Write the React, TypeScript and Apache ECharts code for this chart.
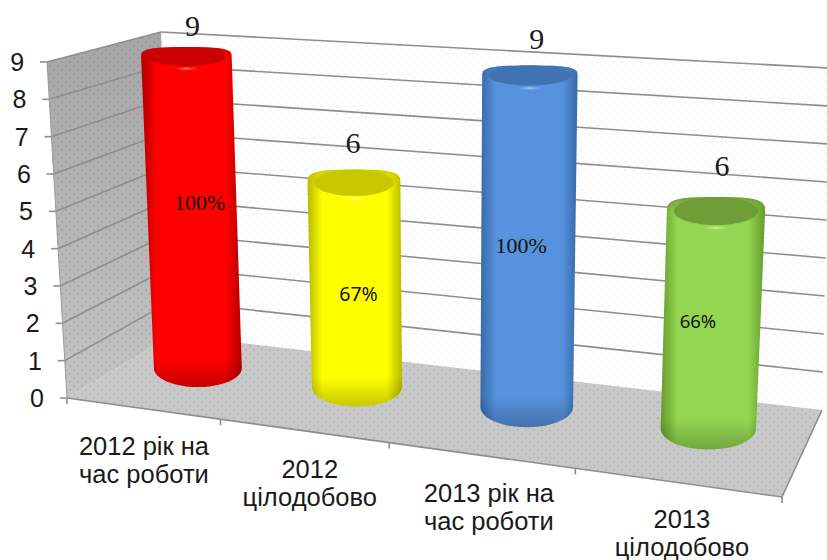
import React, { useEffect, useRef } from "react";
import * as echarts from "echarts";

const categories = ["2012 рік на\nчас роботи", "2012\nцілодобово", "2013 рік на\nчас роботи", "2013\nцілодобово"];
const values = [9, 6, 9, 6];
const percents = ["100%", "67%", "100%", "66%"];
const yTicks = [0, 1, 2, 3, 4, 5, 6, 7, 8, 9];
const edgeColors = ["#b00000", "#b8b800", "#376aa8", "#659a2c"];
const midColors = ["#ff0000", "#ffff00", "#5692dd", "#93d652"];
const capColors = ["#c80000", "#c8c800", "#3f73b3", "#6f9e36"];
const hiColors = ["#ff9a80", "#ffffb0", "#a8d0f5", "#e4f0a0"];
const percentOffsets = [[7, -22], [3, 2], [-7, -9], [-14, -7]];
const valueOffsets = [[6, -22], [-1, -27], [7, -27], [6, -32]];
const categoryOffsets = [[2, 24], [7, 24], [9, 24], [6, 23]];
const percentFonts = ["Liberation Serif", "Noto Sans", "Liberation Serif", "Noto Sans"];
const percentSizes = [22, 19.5, 22, 18.5];

type P = [number, number];
const F: P[] = [[67, 398], [782, 497], [822, 410], [172, 335]];
const T: P[] = [[47, 62], [798, 118], [830, 68], [161, 32]];
const COLUMN_PLANE: P[] = [[122, 359], [804, 440], [821, 92], [107.5, 52.6]];
const FORESHORTEN = 1.08;
const GRID = { left: 47, right: 45, top: 62, bottom: 162 };
const W = 827, H = 560;

function homography(q: P[]) {
  const [[x0, y0], [x1, y1], [x2, y2], [x3, y3]] = q;
  const dx1 = x1 - x2, dx2 = x3 - x2, sx = x0 - x1 + x2 - x3;
  const dy1 = y1 - y2, dy2 = y3 - y2, sy = y0 - y1 + y2 - y3;
  const det = dx1 * dy2 - dx2 * dy1;
  const g = (sx * dy2 - dx2 * sy) / det, h = (dx1 * sy - sx * dy1) / det;
  const a = x1 - x0 + g * x1, b = x3 - x0 + h * x3, d = y1 - y0 + g * y1, e = y3 - y0 + h * y3;
  return (u: number, w: number): P => {
    const k = g * u + h * w + 1;
    return [(a * u + b * w + x0) / k, (d * u + e * w + y0) / k];
  };
}
const floorH = homography(F);
const topH = homography(T);
const columnH = homography(COLUMN_PLANE);
function P3(u: number, t: number, w: number): P {
  const f = floorH(u, w), p = topH(u, w);
  return [f[0] + (p[0] - f[0]) * t, f[1] + (p[1] - f[1]) * t];
}
const column = (u: number, t: number): P => columnH(u, Math.pow(t, FORESHORTEN));
function scales(api: any) {
  const gx = GRID.left, gw = W - GRID.left - GRID.right;
  const y0 = api.coord([0, 0])[1], y9 = api.coord([0, 9])[1];
  return {
    u: (i: number) => (api.coord([i, 0])[0] - gx) / gw,
    t: (v: number) => (y0 - api.coord([0, v])[1]) / (y0 - y9),
  };
}
function dotPattern(alpha: number) {
  const c = document.createElement("canvas");
  c.width = 8; c.height = 8;
  const x = c.getContext("2d")!;
  x.fillStyle = `rgba(70,70,70,${alpha})`;
  x.fillRect(1, 1, 2, 2);
  x.fillRect(5, 5, 2, 2);
  return { image: c, repeat: "repeat" };
}
const hGrad = (edge: string, mid: string) => ({
  type: "linear", x: 0, y: 0, x2: 1, y2: 0,
  colorStops: [
    { offset: 0, color: edge }, { offset: 0.16, color: mid }, { offset: 0.5, color: mid },
    { offset: 0.84, color: mid }, { offset: 1, color: edge },
  ],
});
const ryAt = (y: number) => 8 + 0.03 * y;

function renderBox(params: any, api: any) {
  const s = scales(api);
  const line = (a: P, b: P, stroke = "#8e8e8e", lineWidth = 1.6) => ({
    type: "line", shape: { x1: a[0], y1: a[1], x2: b[0], y2: b[1] }, style: { stroke, lineWidth },
  });
  const poly = (pts: P[], fill: any) => ({ type: "polygon", shape: { points: pts }, style: { fill } });
  const vert = (a: string, b: string) => ({
    type: "linear", x: 0, y: 0, x2: 0, y2: 1,
    colorStops: [{ offset: 0, color: a }, { offset: 1, color: b }],
  });
  const back: P[] = [P3(0, 1, 1), P3(1, 1, 1), P3(1, 0, 1), P3(0, 0, 1)];
  const left: P[] = [P3(0, 1, 0), P3(0, 1, 1), P3(0, 0, 1), P3(0, 0, 0)];
  const floor: P[] = [P3(0, 0, 0), P3(1, 0, 0), P3(1, 0, 1), P3(0, 0, 1)];
  const children: any[] = [
    poly(back, "#ffffff"), poly(back, dotPattern(0.07)),
    poly(left, vert("#a6a6a6", "#c4c4c4")), poly(left, dotPattern(0.14)),
    poly(floor, "#c8c8c8"), poly(floor, dotPattern(0.12)),
  ];
  yTicks.forEach((v) => {
    const t = s.t(v);
    const a = P3(0, t, 0), b = P3(0, t, 1), c = P3(1, t, 1);
    if (v > 0) children.push(line(a, b), line(b, c));
    children.push(line([a[0] - 7, a[1]], a));
  });
  children.push(line(P3(0, 1, 0), P3(0, 0, 0), "#9a9a9a", 1));
  children.push(line(P3(0, 0, 0), P3(1, 0, 0)), line(P3(1, 0, 0), P3(1, 0, 1)));
  for (let c = 0; c <= 4; c++) {
    const p = P3(c / 4, 0, 0);
    children.push(line(p, [p[0], p[1] + 6]));
  }
  categories.forEach((name, i) => {
    const mid = P3(s.u(i), 0, 0);
    children.push({
      type: "text",
      style: {
        x: mid[0] + categoryOffsets[i][0], y: mid[1] + categoryOffsets[i][1], text: name,
        align: "center", verticalAlign: "top",
        font: '25.5px "Liberation Sans"', lineHeight: 28, fill: "#1a1a1a",
      },
    });
  });
  return { type: "group", children };
}

function renderCylinder(params: any, api: any) {
  const i = api.value(0), v = api.value(1);
  const s = scales(api);
  const u = s.u(i), tv = s.t(v);
  const b = column(u, 0), t = column(u, tv);
  const band = column(u + 0.125, 0)[0] - column(u - 0.125, 0)[0];
  const rx = 27 + 0.11 * band;
  const rxT = rx * 1.03;
  const ryB = ryAt(b[1]), ryT = ryAt(t[1]);
  const pts: P[] = [];
  for (let a = 0; a <= 24; a++) {
    const th = Math.PI + (a / 24) * Math.PI;
    const c = Math.cos(th), sn = Math.sin(th);
    pts.push([t[0] + rxT * Math.sign(c) * Math.pow(Math.abs(c), 0.6), t[1] + ryT * Math.sign(sn) * Math.pow(Math.abs(sn), 0.6)]);
  }
  const low: P[] = [];
  for (let a = 0; a <= 24; a++) {
    const th = (a / 24) * Math.PI;
    low.push([b[0] + rx * Math.cos(th), b[1] + ryB * Math.sin(th)]);
  }
  const label = column(u, tv / 2);
  const top = t[1] - ryT;
  return {
    type: "group",
    children: [
      { type: "polygon", shape: { points: [...pts, ...low] }, style: { fill: hGrad(edgeColors[i], midColors[i]) } },
      {
        type: "polygon", shape: { points: [[b[0] - rx, b[1] - 10] as P, [b[0] + rx, b[1] - 10] as P, ...low] },
        style: {
          fill: {
            type: "linear", x: 0, y: 0, x2: 0, y2: 1,
            colorStops: [{ offset: 0, color: "rgba(0,0,0,0)" }, { offset: 1, color: "rgba(0,0,0,0.22)" }],
          },
        },
      },
      {
        type: "polygon", shape: { points: pts },
        style: {
          fill: {
            type: "linear", x: 0, y: 0, x2: 0, y2: 1,
            colorStops: [{ offset: 0, color: capColors[i] }, { offset: 1, color: capColors[i] + "00" }],
          },
        },
      },
      {
        type: "ellipse", shape: { cx: t[0], cy: t[1] - 0.5, rx: rxT * 0.86, ry: ryT * 0.98 },
        style: { fill: capColors[i] },
      },
      {
        type: "ellipse", shape: { cx: t[0], cy: t[1] + ryT + 2, rx: rxT * 0.32, ry: 2.5 },
        style: {
          fill: {
            type: "radial", x: 0.5, y: 0.5, r: 0.5,
            colorStops: [{ offset: 0, color: hiColors[i] }, { offset: 1, color: midColors[i] + "00" }],
          },
        },
      },
      {
        type: "text",
        style: {
          x: t[0] + valueOffsets[i][0], y: top + valueOffsets[i][1], text: String(v), align: "center", verticalAlign: "middle",
          font: '30px "Liberation Serif"', fill: "#1a1a1a",
        },
      },
      {
        type: "text",
        style: {
          x: label[0] + percentOffsets[i][0], y: label[1] + percentOffsets[i][1], text: percents[i],
          align: "center", verticalAlign: "middle",
          font: `${percentSizes[i]}px "${percentFonts[i]}"`, fill: "#14140a",
        },
      },
    ],
  };
}

export default function App() {
  const ref = useRef<HTMLDivElement>(null);
  useEffect(() => {
    document.body.style.margin = "0";
    const chart = echarts.init(ref.current!, null, { renderer: "svg" });
    chart.setOption({
      animation: false,
      backgroundColor: "#ffffff",
      grid: GRID,
      xAxis: { type: "category", data: categories, show: false },
      yAxis: {
        type: "value", min: 0, max: 9, interval: 1,
        axisLine: { show: false }, axisTick: { show: false }, splitLine: { show: false },
        axisLabel: {
          margin: 3,
          formatter: (v: number) => `{l${v}|${v}}`,
          rich: Object.fromEntries(
            yTicks.map((v) => [`l${v}`, { padding: [0, 2.2 * v, 0, 0], fontSize: 25, fontFamily: "Liberation Sans", color: "#1a1a1a" }])
          ),
        },
      },
      series: [
        { type: "custom", clip: false, silent: true, data: [[0, 0]], renderItem: renderBox, z: 1 },
        {
          type: "custom", clip: false, silent: true, z: 2,
          data: values.map((v, i) => [i, v]), encode: { x: 0, y: 1 }, renderItem: renderCylinder,
        },
      ],
    });
    return () => chart.dispose();
  }, []);
  return <div ref={ref} style={{ width: W, height: H }} />;
}
